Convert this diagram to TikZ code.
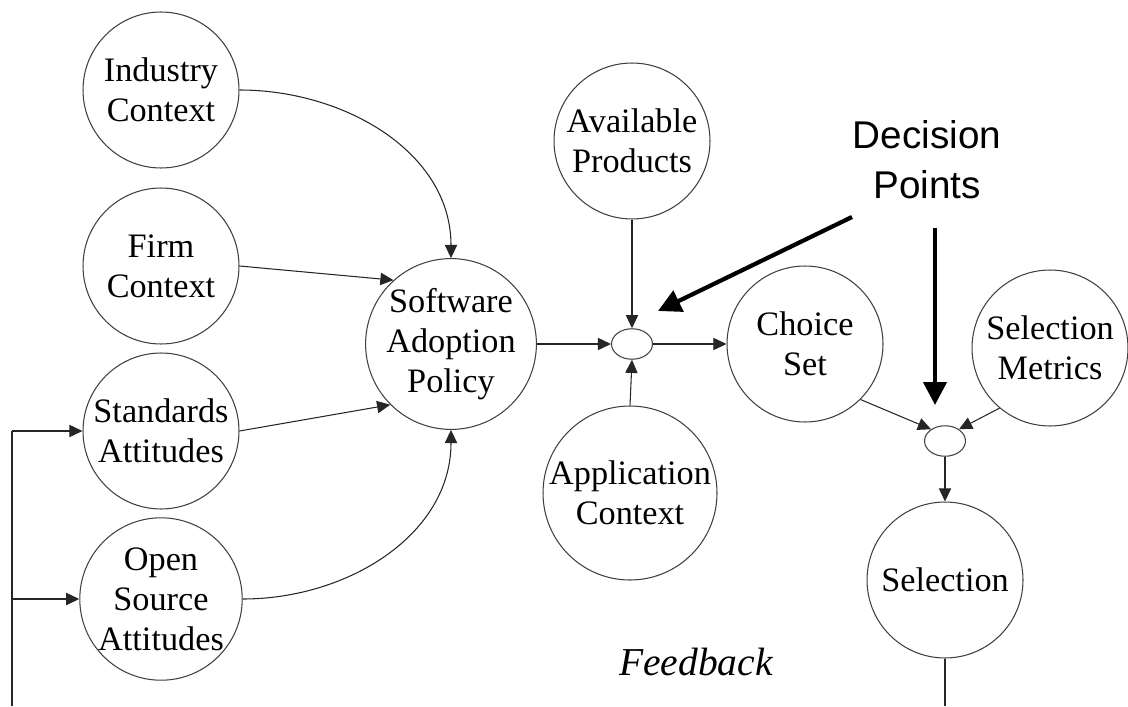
\documentclass[tikz,border=0pt]{standalone}
\usepackage{fontspec}
\setmainfont{Liberation Serif}
\newfontfamily\decfont{Liberation Sans}
\usetikzlibrary{arrows.meta,shapes.geometric}

\begin{document}
\begin{tikzpicture}[x=0.02cm,y=-0.02cm]
		\useasboundingbox (0,0) rectangle (1128,706);
		\begin{scope}[every node/.style={draw=black!75, circle, line width=0.6pt, minimum size=3.12cm, inner sep=0pt, align=center, font=\fontsize{19.5}{22.8}\selectfont}]
			\node (IC) at (161,90) {Industry\\Context};
			\node (FC) at (161,266) {Firm\\Context};
			\node (ST) at (161,431) {Standards\\Attitudes};
			\node (OS) at (161,599) {Open\\Source\\Attitudes};
			\node (SAP) at (451,344) {Software\\Adoption\\Policy};
			\node (AP) at (632,141) {Available\\Products};
			\node (AC) at (630,493) {Application\\Context};
			\node (CS) at (805,344) {Choice\\Set};
			\node (SM) at (1050,348) {Selection\\Metrics};
			\node (SEL) at (945,580) {Selection};
		\end{scope}
		\begin{scope}[every node/.style={draw=black!75, ellipse, line width=0.6pt, minimum width=0.82cm, minimum height=0.61cm, inner sep=0pt}]
			\node (J1) at (632,344) {};
			\node (J2) at (945,441) {};
		\end{scope}
		\node (DP) [align=center, font=\decfont\fontsize{22}{28.5}\selectfont] at (927,160) {Decision\\Points};
		\node (FB) [font=\fontsize{22.5}{27}\selectfont\itshape] at (696,662) {Feedback};

		\coordinate (FBtop) at (12,431);
		\coordinate (FBmid) at (12,599);
		\coordinate (FBbot) at (12,706);
		\coordinate (SELbot) at (945,706);
		\coordinate (D1s) at (852,217);
		\coordinate (D1e) at (658,311);
		\coordinate (D2s) at (935,228);
		\coordinate (D2e) at (935,405);

		\begin{scope}[every edge/.style={draw=black!85, line width=0.6pt, -{Triangle[length=7.5pt,width=7pt]}}]
			\path (IC.east) edge [out=0, in=90] (SAP.north);
			\path (FC.east) edge (SAP.132);
			\path (ST.east) edge (SAP.225);
			\path (OS.east) edge [out=0, in=-90] (SAP.south);
			\path (SAP.east) edge (J1.west);
			\path (AP.south) edge (J1.north);
			\path (AC.north) edge (J1.south);
			\path (J1.east) edge (CS.west);
			\path (CS.-45) edge (J2.140);
			\path (SM.230) edge (J2.40);
			\path (J2.south) edge (SEL.north);
			\path (SEL.south) edge [-] (SELbot);
			\path (FBbot) edge [-] (FBtop);
			\path (FBtop) edge (ST.west);
			\path (FBmid) edge (OS.west);
		\end{scope}
		\begin{scope}[every edge/.style={draw, line width=2.4pt, -{Triangle[length=13pt,width=13pt]}}]
			\path (D1s) edge (D1e);
			\path (D2s) edge (D2e);
		\end{scope}
	\end{tikzpicture}
\end{document}
